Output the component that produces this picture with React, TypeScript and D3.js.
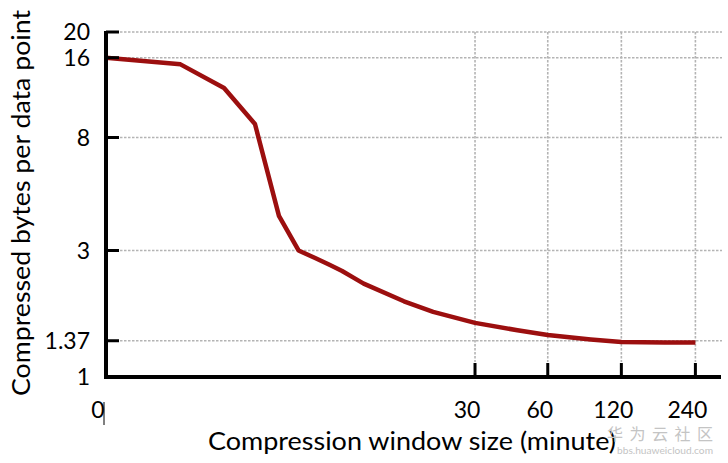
import React from "react";
import * as d3 from "d3";

const windowSizes = [0, 1, 2, 3, 4, 5, 6, 7, 8, 9, 10, 15, 20, 30, 45, 60, 90, 120, 180, 240];
const bytesPerPoint = [16.0, 15.1, 12.3, 9.0, 4.05, 3.0, 2.81, 2.65, 2.51, 2.37, 2.25, 1.93, 1.76, 1.6, 1.5, 1.44, 1.385, 1.355, 1.35, 1.35];
const xTickValues = [30, 60, 120, 240];
const xTickLabels = ["0", "30", "60", "120", "240"];
const yTickValues = [1, 1.37, 3, 8, 16, 20];
const yTickLabels = ["1", "1.37", "3", "8", "16", "20"];
const xTitle = "Compression window size (minute)";
const yTitle = "Compressed bytes per data point";
const watermark = "华 为 云 社 区";
const watermarkUrl = "bbs.huaweicloud.com";

const W = 728;
const H = 463;
const FONT = "Lato, 'Open Sans', sans-serif";

export default function App() {
  const x = d3.scaleLog().base(2).domain([1, 303]).range([106, 720]);
  const y = d3.scaleLog().domain([1, 20]).range([377, 32]);
  const px = (v: number) => x(v + 1);
  const data = windowSizes.map((w, i) => [w, bytesPerPoint[i]] as [number, number]);
  const line = d3
    .line<[number, number]>()
    .x((d) => px(d[0]))
    .y((d) => y(d[1]));
  const xLabelVals = [0, ...xTickValues];

  return (
    <svg
      width={W}
      height={H}
      style={{ position: "absolute", left: 0, top: 0, background: "#fff" }}
      fontFamily={FONT}
    >
      <rect x={0} y={0} width={W} height={H} fill="#fff" />
      {yTickValues
        .filter((v) => v !== 1)
        .map((v) => (
          <line
            key={"hg" + v}
            x1={120}
            x2={722}
            y1={y(v)}
            y2={y(v)}
            stroke="#b4b4b4"
            strokeWidth={1.6}
            strokeDasharray="2.5,1.5"
          />
        ))}
      {xTickValues.map((v) => (
        <line
          key={"vg" + v}
          x1={px(v)}
          x2={px(v)}
          y1={y(20)}
          y2={362}
          stroke="#b4b4b4"
          strokeWidth={1.6}
          strokeDasharray="2.5,1.5"
        />
      ))}
      <path
        d={line(data) || ""}
        fill="none"
        stroke="#9c0f0f"
        strokeWidth={4.5}
        strokeLinejoin="round"
        strokeLinecap="butt"
      />
      <line x1={106} x2={106} y1={y(20) - 1} y2={379} stroke="#000" strokeWidth={4} />
      <line x1={104} x2={721} y1={377} y2={377} stroke="#000" strokeWidth={4} />
      {yTickValues
        .filter((v) => v !== 1)
        .map((v) => (
          <line key={"yt" + v} x1={106} x2={119} y1={y(v)} y2={y(v)} stroke="#000" strokeWidth={3} />
        ))}
      {xTickValues.map((v) => (
        <line key={"xt" + v} x1={px(v)} x2={px(v)} y1={377} y2={363} stroke="#000" strokeWidth={3} />
      ))}
      {yTickValues.map((v, i) => (
        <text
          key={"yl" + v}
          x={90}
          y={y(v)}
          dy="0.36em"
          textAnchor="end"
          fontSize={23}
          fill="#000"
        >
          {yTickLabels[i]}
        </text>
      ))}
      {xLabelVals.map((v, i) => (
        <text
          key={"xl" + v}
          x={px(v) - 8}
          y={418}
          textAnchor="middle"
          fontSize={23}
          fill="#000"
        >
          {xTickLabels[i]}
        </text>
      ))}
      <line x1={104} x2={104} y1={402} y2={425} stroke="#000" strokeWidth={1} />
      <text x={208} y={450} fontSize={25} fill="#000" textLength={408} lengthAdjust="spacingAndGlyphs">
        {xTitle}
      </text>
      <text
        transform="translate(30,396) rotate(-90)"
        x={0}
        y={0}
        fontSize={25}
        fill="#000"
        textLength={386}
        lengthAdjust="spacingAndGlyphs"
      >
        {yTitle}
      </text>
      <text
        x={607}
        y={440}
        fontSize={16}
        fill="#c4c4c4"
        fontFamily="'Noto Sans CJK SC', sans-serif"
        textLength={106}
        lengthAdjust="spacing"
      >
        {watermark}
      </text>
      <text x={617} y={454} fontSize={10} fill="#c4c4c4" textLength={96} lengthAdjust="spacingAndGlyphs">
        {watermarkUrl}
      </text>
    </svg>
  );
}
